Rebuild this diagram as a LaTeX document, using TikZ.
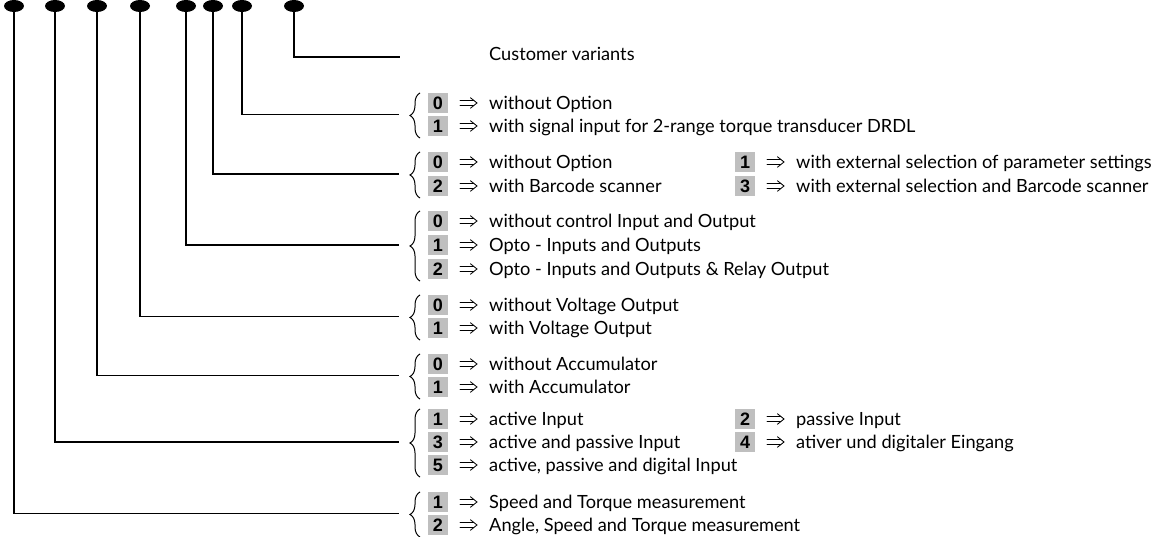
\documentclass[tikz,border=0pt]{standalone}
\usepackage{fontspec}
\setmainfont{Lato}
\newfontfamily\digitfont{Liberation Sans}
\usetikzlibrary{shapes.geometric,decorations.pathreplacing}

% one option row: name, badge x, row y, code digit, description
\newcommand\optrow[5]{%
  \node[badge] (#1b) at (#2,#3) {#4};
  \node[implies] (#1a) at (#2+30.5,#3) {};
  % the double "implies" arrow between code and description
  \draw[impline] ([xshift=-8.5pt,yshift=2.3pt]#1a.center) -- ([xshift=5pt,yshift=2.3pt]#1a.center)
                 ([xshift=-8.5pt,yshift=-2.3pt]#1a.center) -- ([xshift=5pt,yshift=-2.3pt]#1a.center);
  \draw[impline] ([xshift=2pt,yshift=5.2pt]#1a.center)
      .. controls ([xshift=5pt,yshift=1.8pt]#1a.center) .. ([xshift=8.5pt]#1a.center)
      .. controls ([xshift=5pt,yshift=-1.8pt]#1a.center) .. ([xshift=2pt,yshift=-5.2pt]#1a.center);
  \node[desc] (#1t) at (#2+51,#3+6.5) {#5};
}
% curly brace spanning the first and last row centres
\newcommand\optbrace[2]{%
  \draw[bracestyle] (420,#2+12) -- (420,#1-10);
}

\begin{document}
\begin{tikzpicture}[x=1pt,y=-1pt,
  dot/.style={ellipse,fill=black,inner sep=0pt,minimum width=20pt,minimum height=12pt},
  wire/.style={line width=1.6pt},
  badge/.style={fill=black!25,minimum width=20pt,minimum height=20pt,inner sep=0pt,
    font=\digitfont\bfseries\fontsize{18}{18}\selectfont},
  implies/.style={inner sep=0pt,minimum width=18pt,minimum height=11pt},
  impline/.style={line width=0.85pt,line cap=round},
  desc/.style={anchor=base west,inner sep=0pt,font=\fontsize{18.2}{20}\selectfont},
  bracestyle/.style={line width=1pt,decorate,decoration={brace,amplitude=10pt}}]
\useasboundingbox (0,0) rectangle (1168,537);

% code position markers
\node[dot] (d1) at (14,6) {};
\node[dot] (d2) at (55,6) {};
\node[dot] (d3) at (97,6) {};
\node[dot] (d4) at (140,6) {};
\node[dot] (d5) at (186,6) {};
\node[dot] (d6) at (213,6) {};
\node[dot] (d7) at (242,6) {};
\node[dot] (d8) at (294,6) {};

% end points of the leader lines
\coordinate (c8) at (400,57);
\coordinate (c7) at (399,114.5);
\coordinate (c6) at (399,174);
\coordinate (c5) at (399,245);
\coordinate (c4) at (399,316.5);
\coordinate (c3) at (399,375.5);
\coordinate (c2) at (399,442);
\coordinate (c1) at (399,513.5);

\foreach \i in {1,...,8} \draw[wire] (d\i) |- (c\i);

\node[desc] (cust) at (489,61) {Customer variants};

% position 7
\optbrace{103}{126}
\optrow{a0}{438}{103}{0}{without Option}
\optrow{a1}{438}{126}{1}{with signal input for 2-range torque transducer DRDL}

% position 6
\optbrace{162}{186}
\optrow{b0}{438}{162}{0}{without Option}
\optrow{b2}{438}{186}{2}{with Barcode scanner}
\optrow{b1}{745}{162}{1}{with external selection of parameter settings}
\optrow{b3}{745}{186}{3}{with external selection and Barcode scanner}

% position 5
\optbrace{221}{269}
\optrow{c0}{438}{221}{0}{without control Input and Output}
\optrow{c1}{438}{245}{1}{Opto - Inputs and Outputs}
\optrow{c2}{438}{269}{2}{Opto - Inputs and Outputs \& Relay Output}

% position 4
\optbrace{305}{328}
\optrow{e0}{438}{305}{0}{without Voltage Output}
\optrow{e1}{438}{328}{1}{with Voltage Output}

% position 3
\optbrace{364}{387}
\optrow{f0}{438}{364}{0}{without Accumulator}
\optrow{f1}{438}{387}{1}{with Accumulator}

% position 2
\optbrace{419}{465}
\optrow{g1}{438}{419}{1}{active Input}
\optrow{g3}{438}{442}{3}{active and passive Input}
\optrow{g5}{438}{465}{5}{active, passive and digital Input}
\optrow{g2}{745}{419}{2}{passive Input}
\optrow{g4}{745}{442}{4}{ativer und digitaler Eingang}

% position 1
\optbrace{502}{525}
\optrow{h1}{438}{502}{1}{Speed and Torque measurement}
\optrow{h2}{438}{525}{2}{Angle, Speed and Torque measurement}
\end{tikzpicture}
\end{document}
